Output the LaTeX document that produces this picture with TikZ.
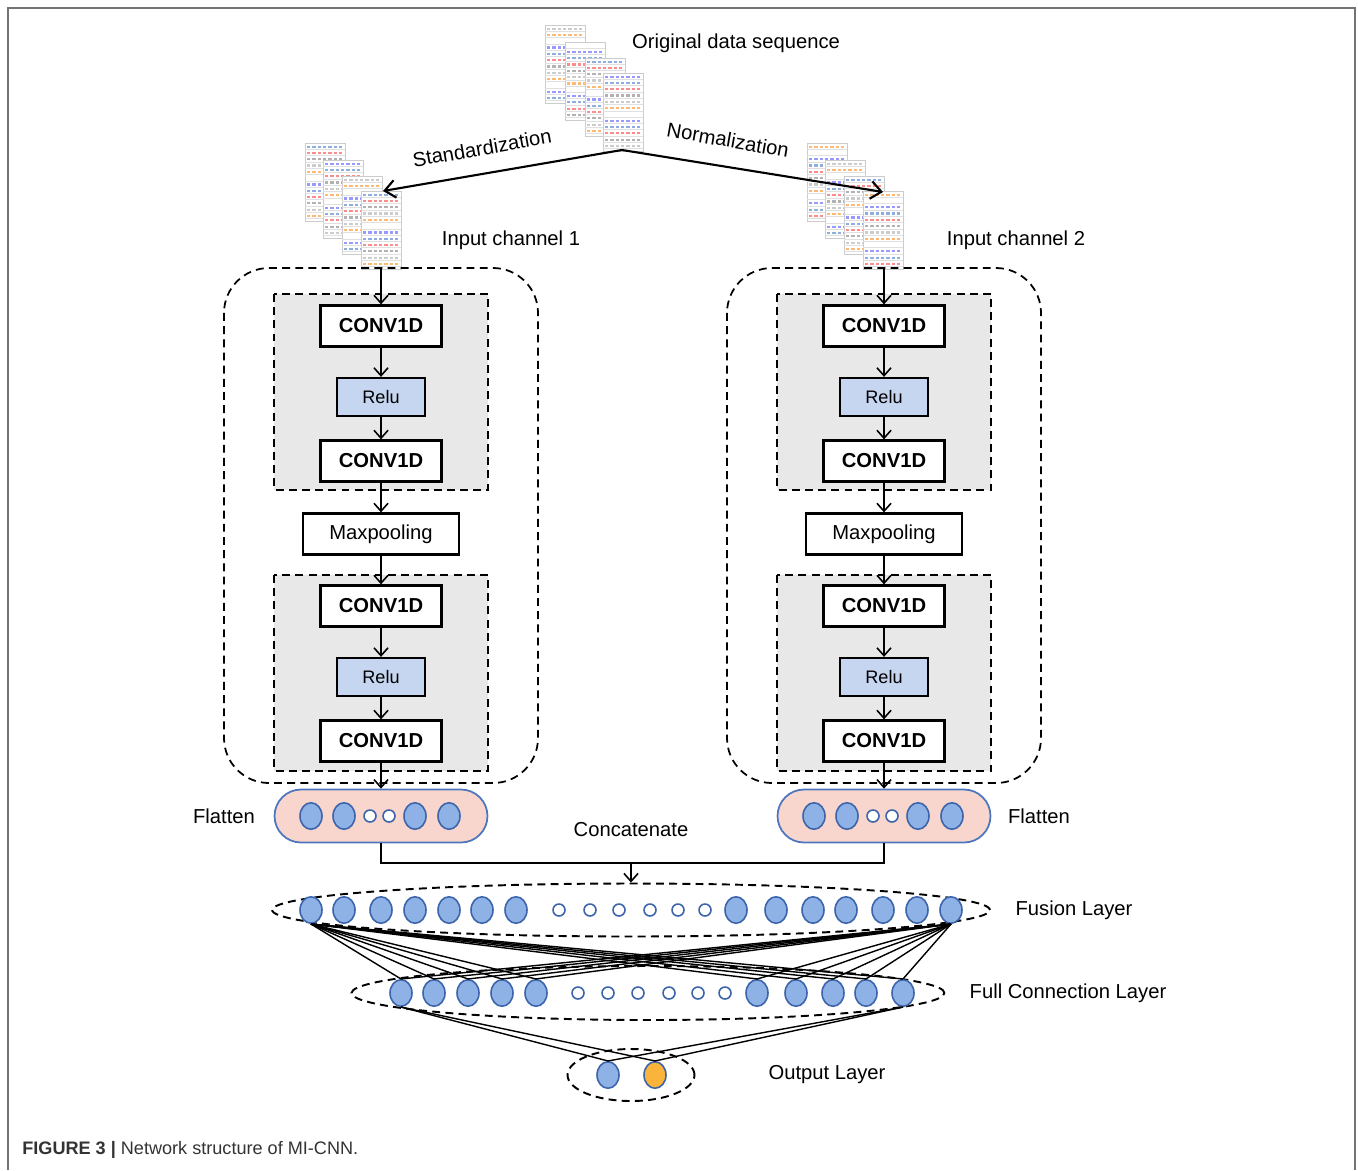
\documentclass[tikz,border=0pt]{standalone}
\usepackage{fontspec}
\setmainfont{Liberation Sans}
\usepackage[dvipsnames]{xcolor}
\usetikzlibrary{shapes.geometric,arrows.meta,positioning}

\definecolor{relublue}{RGB}{198,214,240}
\definecolor{neufill}{RGB}{142,178,230}
\definecolor{neuline}{RGB}{60,100,170}
\definecolor{pillfill}{RGB}{249,214,205}
\definecolor{pillline}{RGB}{78,118,190}
\definecolor{outorange}{RGB}{250,180,60}
\definecolor{boxgray}{RGB}{232,232,232}

% one small sheet of the data sequence
\newcommand{\datasheet}[2]{%
  \filldraw[fill=white,draw=black!20,line width=0.3pt] (#1,#2) rectangle ++(40,78);
  \foreach \r in {0,...,11}{%
    \draw[black!12,line width=0.3pt] (#1,#2+6.3*\r+6.3) -- ++(40,0);
    \foreach \i in {0,...,6}{%
      \pgfmathtruncatemacro{\k}{mod(\r*3+\i*7+#1,7)}%
      \ifcase\k\relax \def\cc{red!45}\or\def\cc{blue!40}\or\def\cc{orange!55}\or\def\cc{black!30}\or\def\cc{cyan!50!blue!45}\or\def\cc{white}\or\def\cc{black!20}\fi
      \fill[\cc] (#1+2+5.3*\i,#2+2.5+6.3*\r) rectangle ++(3.4,2.2);
    }%
  }%
}

\begin{document}
\begin{tikzpicture}[x=0.02cm,y=-0.02cm,>={Straight Barb[length=4.5pt,width=8pt]},
  conv/.style={draw,line width=1.3pt,fill=white,minimum width=2.42cm,minimum height=0.82cm,font=\bfseries\fontsize{11.5}{13}\selectfont},
  relu/.style={draw,line width=1.3pt,fill=relublue,minimum width=1.76cm,minimum height=0.76cm,font=\fontsize{10.3}{12}\selectfont},
  pool/.style={conv,minimum width=3.12cm,font=\fontsize{11.5}{13}\selectfont},
  flow/.style={->,line width=0.9pt},
  link/.style={line width=0.8pt},
  dashbox/.style={draw,line width=1pt,dash pattern=on 4.5pt off 3pt},
  pill/.style={draw=pillline,line width=1pt,fill=pillfill,rounded corners=0.53cm,minimum width=4.26cm,minimum height=1.06cm},
  big neuron/.style={ellipse,draw=neuline,line width=0.9pt,fill=neufill,minimum width=0.44cm,minimum height=0.53cm,inner sep=0pt},
  small neuron/.style={circle,draw=neuline,line width=0.9pt,fill=white,minimum size=0.24cm,inner sep=0pt},
  layer/.style={ellipse,dashbox,line width=1.1pt},
  label text/.style={font=\fontsize{11.5}{13}\selectfont}]

\useasboundingbox (0,0) rectangle (1358,1170);
\draw[black!55,line width=1.1pt] (8,1170) -- (8,8) -- (1355,8) -- (1355,1170);

% data sequences
\datasheet{545}{25}\datasheet{565}{42}\datasheet{585}{58}\datasheet{603}{73}
\datasheet{305}{143}\datasheet{323}{160}\datasheet{342}{176}\datasheet{361}{191}
\datasheet{807}{143}\datasheet{825}{160}\datasheet{844}{176}\datasheet{863}{191}

\node[label text] (orig text) at (736,43) {Original data sequence};
\node[label text] (in text a) at (511,240) {Input channel 1};
\node[label text] (in text b) at (1016,240) {Input channel 2};

\coordinate (orig) at (622,150);
\coordinate (in a) at (383,191);
\coordinate (in b) at (883,192);
\draw[->,line width=1.2pt,>={Straight Barb[length=6pt,width=10pt]}] (orig) -- (in a);
\draw[->,line width=1.2pt,>={Straight Barb[length=6pt,width=10pt]}] (orig) -- (in b);
\node[label text,rotate=10] (std) at (482,148) {Standardization};
\node[label text,rotate=-10] (norm) at (728,140) {Normalization};

% the two branches
\foreach \s/\x in {a/381,b/884}{
  \draw[dashbox,rounded corners=0.9cm] (\x-157,268) rectangle (\x+157,783);
  \filldraw[dashbox,fill=boxgray] (\x-107,294) rectangle (\x+107,490);
  \filldraw[dashbox,fill=boxgray] (\x-107,575) rectangle (\x+107,771);

  \coordinate (top\s) at (\x,268);
  \node[conv] (conv1\s) at (\x,326) {CONV1D};
  \node[relu] (relu1\s) at (\x,397) {Relu};
  \node[conv] (conv2\s) at (\x,461) {CONV1D};
  \node[pool] (pool\s) at (\x,534) {Maxpooling};
  \node[conv] (conv3\s) at (\x,606) {CONV1D};
  \node[relu] (relu2\s) at (\x,677) {Relu};
  \node[conv] (conv4\s) at (\x,741) {CONV1D};
  \node[pill] (flat\s) at (\x,816) {};
  \foreach \d/\t in {-70/big,-37/big,-11/small,8/small,34/big,68/big}
    \node[\t\space neuron] at (\x+\d,816) {};

  \draw[flow] (top\s) -- (conv1\s);
  \draw[flow] (conv1\s) -- (relu1\s);
  \draw[flow] (relu1\s) -- (conv2\s);
  \draw[flow] (conv2\s) -- (pool\s);
  \draw[flow] (pool\s) -- (conv3\s);
  \draw[flow] (conv3\s) -- (relu2\s);
  \draw[flow] (relu2\s) -- (conv4\s);
  \draw[flow] (conv4\s) -- (flat\s);
}
\node[label text] (flat text a) at (224,816) {Flatten};
\node[label text] (flat text b) at (1039,816) {Flatten};

% concatenate
\coordinate (join) at (631,863);
\node[label text] (cat text) at (631,830) {Concatenate};
\node[layer,minimum width=14.36cm,minimum height=1.06cm] (fusion) at (631,910) {};
\draw[link] (flata.south) |- (join) -| (flatb.south);
\draw[flow] (join) -- (fusion.north);

% fusion layer
\foreach \x [count=\i] in {311,344,381,415,449,482,516,736,776,813,846,883,917,951}
  \node[big neuron] (f\i) at (\x,910) {};
\foreach \x [count=\i] in {559,590,619,650,678,705}
  \node[small neuron] (fs\i) at (\x,910) {};
\node[label text] (fusion text) at (1074,910) {Fusion Layer};

% full connection layer
\node[layer,minimum width=11.86cm,minimum height=1.08cm] (fc) at (648,993) {};
\foreach \x [count=\i] in {401,434,468,502,536,757,796,833,866,903}
  \node[big neuron] (h\i) at (\x,993) {};
\foreach \x [count=\i] in {578,608,638,669,698,725}
  \node[small neuron] (hs\i) at (\x,993) {};
\node[label text] (fc text) at (1068,993) {Full Connection Layer};

\foreach \j in {1,...,10}{
  \draw[link] (f1.south) -- (h\j.north);
  \draw[link] (f14.south) -- (h\j.north);
}

% output layer
\node[layer,minimum width=2.54cm,minimum height=1.04cm] (outl) at (631,1075) {};
\node[big neuron] (o1) at (608,1075) {};
\node[big neuron,fill=outorange] (o2) at (655,1075) {};
\node[label text] (out text) at (827,1075) {Output Layer};
\draw[link] (h1.south) -- (o1.north);
\draw[link] (h1.south) -- (o2.north);
\draw[link] (h10.south) -- (o1.north);
\draw[link] (h10.south) -- (o2.north);

\node[anchor=west,inner sep=0pt,text=black!80,font=\fontsize{10.3}{12}\selectfont] (caption) at (22,1150)
  {\textbf{FIGURE 3 |} Network structure of MI-CNN.};
\end{tikzpicture}
\end{document}
